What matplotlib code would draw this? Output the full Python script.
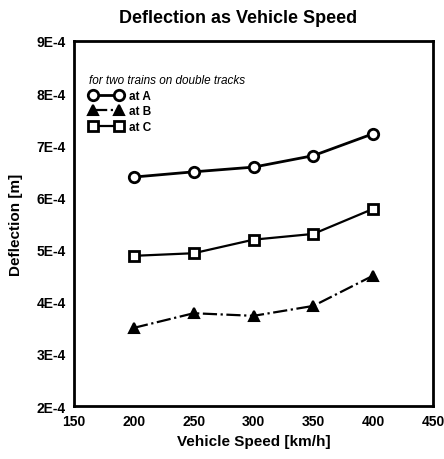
import matplotlib
matplotlib.use('Agg')
import matplotlib.pyplot as plt
from matplotlib.ticker import FixedLocator

# data
speed = [200, 250, 300, 350, 400]
defl_a = [6.39e-4, 6.49e-4, 6.58e-4, 6.80e-4, 7.22e-4]
defl_b = [3.50e-4, 3.78e-4, 3.73e-4, 3.92e-4, 4.50e-4]
defl_c = [4.88e-4, 4.93e-4, 5.19e-4, 5.30e-4, 5.78e-4]
xticks = [150, 200, 250, 300, 350, 400, 450]
yticks = [2e-4, 3e-4, 4e-4, 5e-4, 6e-4, 7e-4, 8e-4, 9e-4]
ylabels = ['2E-4', '3E-4', '4E-4', '5E-4', '6E-4', '7E-4', '8E-4', '9E-4']

plt.rcParams['font.family'] = ['Liberation Sans', 'DejaVu Sans']

fig = plt.figure(figsize=(4.44, 4.6), dpi=100)
ax = fig.add_axes([0.167, 0.115, 0.808, 0.794])

ax.plot(speed, defl_a, '-', color='black', linewidth=2, marker='o', markersize=7.5,
        markerfacecolor='white', markeredgewidth=2, label='at A')
ax.plot(speed, defl_b, '-.', color='black', linewidth=1.6, marker='^', markersize=7.5,
        markerfacecolor='black', markeredgewidth=1.5, label='at B')
ax.plot(speed, defl_c, '-', color='black', linewidth=1.6, marker='s', markersize=6.5,
        markerfacecolor='white', markeredgewidth=2, label='at C')

ax.set_xlim(150, 450)
ax.set_ylim(2e-4, 9e-4)
ax.xaxis.set_major_locator(FixedLocator(xticks))
ax.set_xticklabels([str(v) for v in xticks], fontsize=10, fontweight='bold')
ax.set_yticks(yticks)
ax.set_yticklabels(ylabels, fontsize=10, fontweight='bold')
ax.tick_params(length=0, pad=6)
for s in ax.spines.values():
    s.set_linewidth(2)

ax.set_xlabel('Vehicle Speed [km/h]', fontsize=11, fontweight='bold', labelpad=4)
ax.set_ylabel('Deflection [m]', fontsize=11, fontweight='bold', labelpad=10)
fig.text(0.536, 0.96, 'Deflection as Vehicle Speed', ha='center', va='center',
         fontsize=13, fontweight='bold')

leg = ax.legend(loc='upper left', bbox_to_anchor=(0.035, 0.915), frameon=False,
                title='for two trains on double tracks', fontsize=8.5,
                numpoints=2, handlelength=2.8, handletextpad=0.6, labelspacing=0.3,
                borderpad=0.2, borderaxespad=0)
leg.get_title().set_fontstyle('italic')
leg.get_title().set_fontsize(8.5)
leg._legend_box.align = 'left'
for t in leg.get_texts():
    t.set_fontweight('bold')

fig.savefig('out.png', dpi=100)
